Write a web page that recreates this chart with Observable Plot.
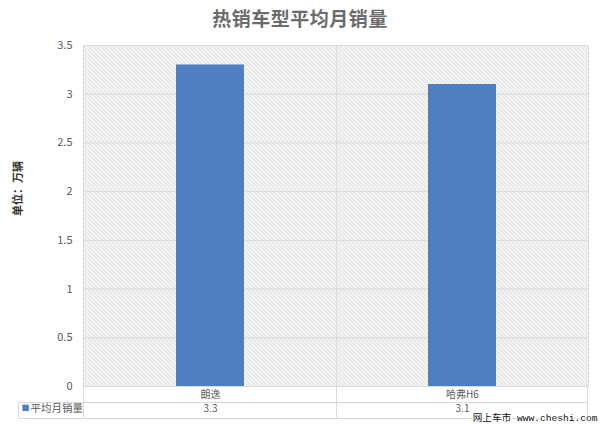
<!DOCTYPE html>
<html>
<head>
<meta charset="utf-8">
<script src="https://cdn.jsdelivr.net/npm/d3@7"></script>
<script src="https://cdn.jsdelivr.net/npm/@observablehq/plot@0.6"></script>
<style>
  body { margin: 0; background: #fff; font-family: "Noto Sans CJK SC", sans-serif; }
  #title { height: 38px; line-height: 36px; text-align: center; font-size: 19px; font-weight: bold; color: #6b6b6b; letter-spacing: 0.5px; }
  #chart svg { display: block; overflow: visible; }
</style>
</head>
<body>
<div id="title">热销车型平均月销量</div>
<div id="chart"></div>
<script>
// Hot-selling models: average monthly sales (unit: 10,000 vehicles)
const models = ["朗逸", "哈弗H6"];
const sales = [3.3, 3.1];
const seriesName = "平均月销量";
const yTicks = [0, 0.5, 1, 1.5, 2, 2.5, 3, 3.5];
const unitLabel = "单位：万辆";
const watermark = "网上车市 www.cheshi.com";

const rows = models.map((model, i) => ({ model, value: sales[i] }));

const barColor = "#4f7fbe";
const gridColor = "#d9d9d9";
const textColor = "#595959";
const cjk = "'Noto Sans CJK SC', sans-serif";

const chart = Plot.plot({
  width: 600,
  height: 388,
  marginTop: 7,
  marginBottom: 40,
  marginLeft: 83,
  marginRight: 12,
  style: { fontFamily: cjk, fontSize: "11px", color: textColor, background: "transparent", overflow: "visible" },
  x: { domain: models, padding: 0 },
  y: { domain: [0, 3.5] },
  marks: [
    // hatched plot background
    Plot.frame({ fill: "url(#hatch)", stroke: gridColor }),
    Plot.gridY(yTicks, { stroke: gridColor, strokeOpacity: 1 }),
    Plot.barY(rows, { x: "model", y: "value", fill: barColor, insetLeft: 92, insetRight: 92 }),
    Plot.axisY(yTicks, { tickSize: 0, tickPadding: 11, label: null, fontSize: 11, fill: textColor, tickFormat: d => String(d) }),
    Plot.axisX({ tickSize: 0, tickPadding: 4, label: null, fontSize: 10, fill: textColor }),
    // data table row with the values
    Plot.text(rows, { x: "model", frameAnchor: "bottom", dy: 25, text: d => String(d.value), fontSize: 10, fill: textColor }),
    // legend key in the data table
    Plot.text(["■"], { frameAnchor: "bottom-left", dx: -62, dy: 24, textAnchor: "start", fontSize: 8, fill: barColor }),
    Plot.text([seriesName], { frameAnchor: "bottom-left", dx: -53, dy: 25, textAnchor: "start", fontSize: 10.5, fill: textColor }),
    // y-axis title
    Plot.text([unitLabel], { frameAnchor: "left", dx: -65, rotate: -90, fontSize: 11, fontWeight: "bold", fill: "#333" }),
    // site mark
    Plot.text([watermark], {
      frameAnchor: "bottom-right", dx: 9, dy: 34, textAnchor: "end",
      fontFamily: "'Liberation Mono', 'Noto Sans CJK SC', monospace", fontSize: 9.6,
      fill: "#111", stroke: "#fff", strokeWidth: 2.5
    })
  ]
});

const svg = d3.select(chart);

// diagonal hatch pattern for the plotting area
const defs = svg.insert("defs", ":first-child");
const pat = defs.append("pattern")
  .attr("id", "hatch")
  .attr("patternUnits", "userSpaceOnUse")
  .attr("width", 4).attr("height", 4);
pat.append("rect").attr("width", 4).attr("height", 4).attr("fill", "#f8f8f8");
pat.append("path").attr("d", "M-1,-1 L5,5 M-1,3 L1,5 M3,-1 L5,1")
  .attr("stroke", "#d0d0d0").attr("stroke-width", 1);

// data table grid lines, placed with the chart's own scales
const xs = chart.scale("x");
const ys = chart.scale("y");
const left = xs.range[0];
const right = xs.range[1];
const y0 = ys.apply(0);
const yTop = ys.apply(3.5);
const row1 = y0 + 16;
const row2 = y0 + 32;
const legendLeft = left - 65;

const grid = svg.append("g").attr("stroke", gridColor).attr("stroke-width", 1).attr("fill", "none");
grid.insert("line").attr("x1", legendLeft).attr("x2", right).attr("y1", row1 + 0.5).attr("y2", row1 + 0.5);
grid.append("line").attr("x1", legendLeft).attr("x2", right).attr("y1", row2 + 0.5).attr("y2", row2 + 0.5);
grid.append("line").attr("x1", legendLeft + 0.5).attr("x2", legendLeft + 0.5).attr("y1", row1).attr("y2", row2);
grid.append("line").attr("x1", left + 0.5).attr("x2", left + 0.5).attr("y1", y0).attr("y2", row2);
grid.append("line").attr("x1", right - 0.5).attr("x2", right - 0.5).attr("y1", y0).attr("y2", row2);
models.slice(1).forEach(m => {
  const bx = Math.round(xs.apply(m)) + 0.5;
  grid.append("line").attr("x1", bx).attr("x2", bx).attr("y1", yTop).attr("y2", row2);
});

// keep the site mark above the table lines
svg.selectAll("g[aria-label='text']").filter((d, i, n) => d3.select(n[i]).text().includes("cheshi")).raise();

document.getElementById("chart").appendChild(chart);
</script>
</body>
</html>
